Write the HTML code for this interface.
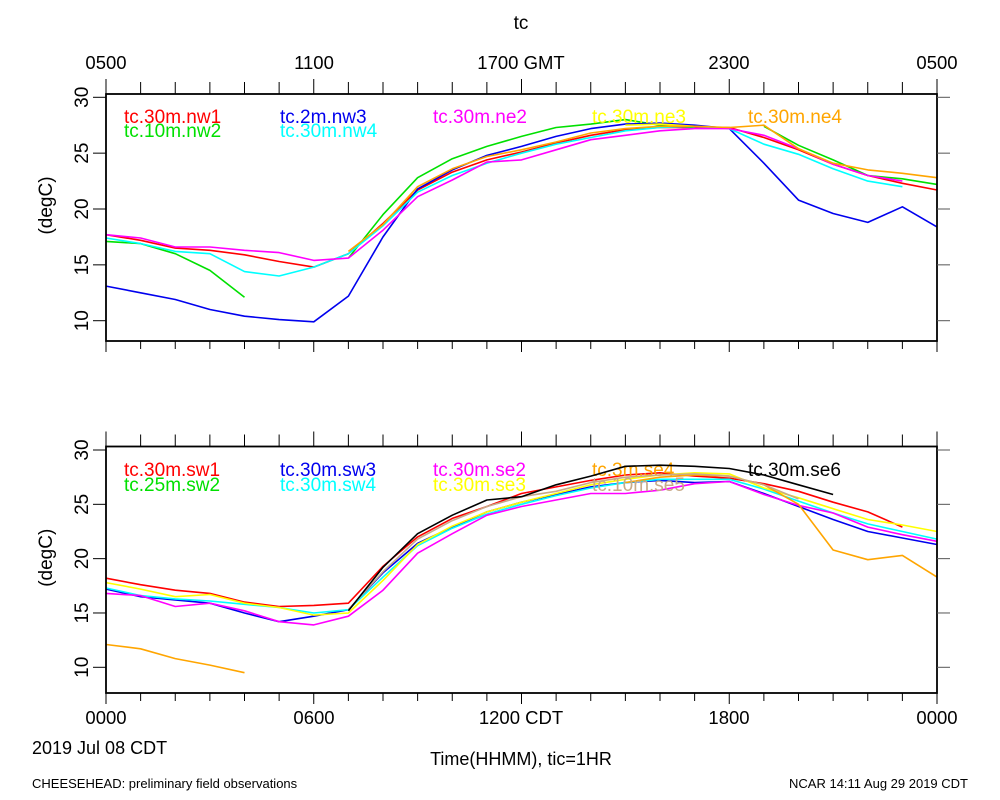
<!DOCTYPE html>
<html><head><meta charset="utf-8"><style>
body{margin:0;background:#fff;}
svg{display:block;font-family:"Liberation Sans",sans-serif;}
</style></head><body>
<svg id="chart" width="1000" height="800" viewBox="0 0 1000 800" xmlns="http://www.w3.org/2000/svg">
<text x="521" y="29" font-size="19" text-anchor="middle">tc</text>
<g font-size="18.5" text-anchor="middle">
<text x="106" y="69">0500</text><text x="314" y="69">1100</text><text x="521" y="69">1700 GMT</text><text x="729" y="69">2300</text><text x="937" y="69">0500</text>
</g>
<g font-size="18.5" text-anchor="middle">
<text x="106" y="724">0000</text><text x="314" y="724">0600</text><text x="521" y="724">1200 CDT</text><text x="729" y="724">1800</text><text x="937" y="724">0000</text>
</g>
<text x="32" y="754" font-size="18">2019 Jul 08 CDT</text>
<text x="521" y="765" font-size="18" text-anchor="middle">Time(HHMM), tic=1HR</text>
<text x="32" y="788" font-size="13">CHEESEHEAD: preliminary field observations</text>
<text x="968" y="788" font-size="13" text-anchor="end">NCAR 14:11 Aug 29 2019 CDT</text>
<g id="top"></g>
<g id="bot"></g>
</svg>
<script>
const hours = [0,1,2,3,4,5,6,7,8,9,10,11,12,13,14,15,16,17,18,19,20,21,22,23,24];
const yTicks = [10,15,20,25,30];
const N = null;
// top panel series
const nw1 = [17.7,17.2,16.5,16.3,15.9,15.3,14.8,16.0,18.7,21.7,23.3,24.4,25.1,25.9,26.6,27.1,27.3,27.3,27.3,26.4,25.3,24.0,23.0,22.3,21.7];
const nw2 = [17.1,16.9,16.0,14.5,12.1,N,N,15.6,19.5,22.8,24.5,25.6,26.5,27.3,27.6,28.0,27.5,27.3,N,27.4,25.7,24.4,23.0,22.7,22.2];
const nw3 = [13.1,12.5,11.9,11.0,10.4,10.1,9.9,12.2,17.5,21.8,23.5,24.8,25.6,26.5,27.2,27.6,27.7,27.5,27.2,24.1,20.8,19.6,18.8,20.2,18.4];
const nw4 = [17.4,16.9,16.2,16.0,14.4,14.0,14.8,16.0,18.5,21.5,23.0,24.1,25.0,25.8,26.4,27.0,27.3,27.4,27.2,25.8,24.9,23.6,22.5,22.0,N];
const ne2 = [17.7,17.4,16.6,16.6,16.3,16.1,15.4,15.6,18.1,21.1,22.6,24.2,24.4,25.3,26.2,26.6,27.0,27.2,27.2,26.6,25.4,24.0,23.0,22.5,N];
const ne3 = [N,N,N,N,N,N,N,N,N,N,N,N,N,N,N,27.5,27.6,27.4,N,N,N,N,N,N,N];
const ne4 = [N,N,N,N,N,N,N,16.2,18.6,22.0,23.6,24.7,25.3,26.0,26.8,27.2,27.4,27.4,27.3,27.5,25.4,24.1,23.5,23.2,22.8];
// bottom panel series
const sw1 = [18.2,17.6,17.1,16.8,16.0,15.6,15.7,15.9,19.3,22.0,23.7,24.8,26.0,26.6,27.2,27.7,27.9,27.6,27.4,26.9,26.2,25.2,24.3,22.9,N];
const sw2 = [N,N,N,N,N,N,N,N,N,N,N,N,N,N,N,N,N,N,N,N,N,N,N,N,N];
const sw3 = [17.2,16.5,16.2,15.9,15.0,14.2,14.7,15.3,18.7,21.4,22.9,24.3,25.2,25.9,26.6,27.0,27.2,27.0,27.1,26.0,24.8,23.6,22.5,21.9,21.3];
const sw4 = [17.3,16.6,16.3,16.1,15.8,15.5,15.0,15.3,18.3,21.2,22.8,24.1,25.0,25.8,26.5,27.0,27.3,27.3,27.3,26.4,25.3,24.2,23.2,22.5,21.8];
const se2 = [16.8,16.6,15.6,15.9,15.2,14.2,13.9,14.7,17.1,20.5,22.3,24.0,24.8,25.4,26.0,26.0,26.3,26.9,27.1,25.9,24.9,24.2,22.9,22.2,21.6];
const se3 = [17.8,17.2,16.5,16.7,15.9,15.5,14.8,15.0,18.0,21.3,23.0,24.3,25.2,26.0,26.8,27.3,27.7,27.9,27.8,26.5,25.6,24.6,23.6,23.1,22.5];
const se4 = [12.1,11.7,10.8,10.2,9.5,N,N,N,N,N,N,N,N,N,N,27.0,27.5,27.7,27.6,26.8,25.0,20.8,19.9,20.3,18.3];
const se5 = [N,N,N,N,N,N,N,15.3,18.8,21.8,23.5,24.8,25.7,26.2,27.0,27.5,27.7,27.8,27.6,26.8,25.5,N,N,N,N];
const se6 = [N,N,N,N,N,N,N,15.2,19.2,22.3,24.0,25.4,25.7,26.8,27.6,28.5,28.6,28.5,28.3,27.7,26.8,25.9,N,N,N];

const topSeries = [
 {name:'tc.30m.nw1',v:nw1,c:'#ff0000',lx:124,ly:123},
 {name:'tc.10m.nw2',v:nw2,c:'#00e000',lx:124,ly:137},
 {name:'tc.2m.nw3',v:nw3,c:'#0000ee',lx:280,ly:123},
 {name:'tc.30m.nw4',v:nw4,c:'#00ffff',lx:280,ly:137},
 {name:'tc.30m.ne2',v:ne2,c:'#ff00ff',lx:433,ly:123},
 {name:'tc.30m.ne3',v:ne3,c:'#ffff00',lx:592,ly:123},
 {name:'tc.30m.ne4',v:ne4,c:'#ffa500',lx:748,ly:123}];
const botSeries = [
 {name:'tc.30m.sw1',v:sw1,c:'#ff0000',lx:124,ly:476},
 {name:'tc.25m.sw2',v:sw2,c:'#00e000',lx:124,ly:491},
 {name:'tc.30m.sw3',v:sw3,c:'#0000ee',lx:280,ly:476},
 {name:'tc.30m.sw4',v:sw4,c:'#00ffff',lx:280,ly:491},
 {name:'tc.30m.se2',v:se2,c:'#ff00ff',lx:433,ly:476},
 {name:'tc.30m.se3',v:se3,c:'#ffff00',lx:433,ly:491},
 {name:'tc.3m.se4',v:se4,c:'#ffa500',lx:592,ly:476},
 {name:'tc.10m.se5',v:se5,c:'#c8aa88',lx:592,ly:491},
 {name:'tc.30m.se6',v:se6,c:'#000000',lx:748,ly:476}];

const NS='http://www.w3.org/2000/svg';
const X0=106, X1=937;
function xs(h){return X0+(X1-X0)*h/24;}
function mk(tag,attrs,parent){const e=document.createElementNS(NS,tag);for(const k in attrs)e.setAttribute(k,attrs[k]);parent.appendChild(e);return e;}

function panel(g, top, bottom, y10, y30, series, pfx){
  const ys=v=>y10+(v-10)*(y30-y10)/20;
  series.forEach(s=>{
    let d='', pen=false;
    s.v.forEach((v,i)=>{
      if(v===null){pen=false;return;}
      d+=(pen?'L':'M')+xs(hours[i]).toFixed(1)+' '+ys(v).toFixed(1)+' ';
      pen=true;
    });
    if(d){
      const p=mk('path',{d:d,fill:'none',stroke:s.c,'stroke-width':1.6,'stroke-linejoin':'round'},g);
      
      
    }
    const t=mk('text',{x:s.lx,y:s.ly,'font-size':19,fill:s.c},g);
    t.textContent=s.name;
    
    
  });
  const f=mk('rect',{x:X0,y:top,width:X1-X0,height:bottom-top,fill:'none',stroke:'#000','stroke-width':1.8},g);
  
  
  hours.forEach(h=>{
    const x=xs(h), major=h%6===0;
    mk('line',{x1:x,y1:top,x2:x,y2:top-(major?15:12),stroke:'#000','stroke-width':1},g);
    mk('line',{x1:x,y1:bottom,x2:x,y2:bottom+(major?11:8),stroke:'#000','stroke-width':1},g);
  });
  yTicks.forEach(v=>{
    const y=ys(v);
    mk('line',{x1:X0-13,y1:y,x2:X0,y2:y,stroke:'#000','stroke-width':1},g);
    mk('line',{x1:X1,y1:y,x2:X1+13,y2:y,stroke:'#555','stroke-width':1},g);
    const t=mk('text',{x:0,y:0,'font-size':19,'text-anchor':'middle',transform:`translate(88,${y}) rotate(-90)`},g);
    t.textContent=v;
    
    
  });
  const yt=mk('text',{x:0,y:0,'font-size':19,'text-anchor':'middle',transform:`translate(52,${(top+bottom)/2-12}) rotate(-90)`},g);
  yt.textContent='(degC)';
  
  
}
panel(document.getElementById('top'),94,341,320.7,97.3,topSeries,'top');
panel(document.getElementById('bot'),446.5,693,667.3,450,botSeries,'bottom');
</script>
</body></html>
